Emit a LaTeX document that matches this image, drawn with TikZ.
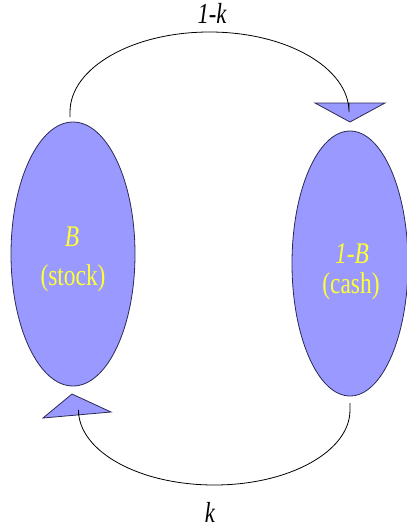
\documentclass[tikz,border=0pt]{standalone}
\usepackage{fontspec}
\usepackage{graphicx}
\setmainfont{Liberation Serif}
\usetikzlibrary{shapes.geometric}
\definecolor{blobfill}{HTML}{9999FF}
\definecolor{blobline}{HTML}{2A2A55}
\definecolor{txtyellow}{HTML}{FFFF33}
\tikzset{
  blob/.style={ellipse, draw=blobline, fill=blobfill, line width=0.8pt, inner sep=0pt},
  inner/.style={text=txtyellow, inner sep=0pt, anchor=base, font=\fontsize{30}{30}\selectfont},
  flowlbl/.style={text=black, inner sep=0pt, anchor=base, font=\fontsize{29}{29}\selectfont},
  conn/.style={draw=black, line width=0.8pt},
  head/.style={draw=blobline, fill=blobfill, line width=0.8pt, line join=miter}
}
\newcommand{\sq}[1]{\scalebox{0.78}[1]{#1}}
\begin{document}
\begin{tikzpicture}[x=1pt, y=-1pt]
\useasboundingbox (0,0) rectangle (407,528);
% ellipses
\node[blob, minimum width=124pt, minimum height=264pt] (stock) at (73,254) {};
\node[blob, minimum width=116pt, minimum height=265pt] (cash) at (350,263.5) {};
% texts
\node[inner] (tB) at (72,246) {\sq{\itshape B}};
\node[inner] (tstock) at (73,285) {\sq{(stock)}};
\node[inner] (t1B) at (352,263) {\sq{\itshape 1-B}};
\node[inner] (tcash) at (351,293) {\sq{(cash)}};
% arrow heads
\coordinate (h1a) at (315,103);
\coordinate (h1b) at (385,103);
\coordinate (h1c) at (350,122);
\coordinate (h1in) at (349,103);
\fill[head] (h1a) -- (h1b) -- (h1c) -- cycle;
\coordinate (h2a) at (72,394);
\coordinate (h2b) at (43,418);
\coordinate (h2c) at (111,412);
\coordinate (h2in) at (78.5,415);
\fill[head] (h2a) -- (h2b) -- (h2c) -- cycle;
% connectors
\coordinate (c1start) at (70,117);
\draw[conn] (c1start) -- (70,112) arc[start angle=180, end angle=360, x radius=139.5, y radius=80] -- (h1in);
\coordinate (c2start) at (350,403);
\draw[conn] (c2start) -- (350,410) arc[start angle=0, end angle=180, x radius=135.75, y radius=75] -- (h2in);
% labels
\node[flowlbl] (lk1) at (212,23) {\sq{\itshape 1-k}};
\node[flowlbl] (lk) at (210,522) {\sq{\itshape k}};
\end{tikzpicture}
\end{document}
